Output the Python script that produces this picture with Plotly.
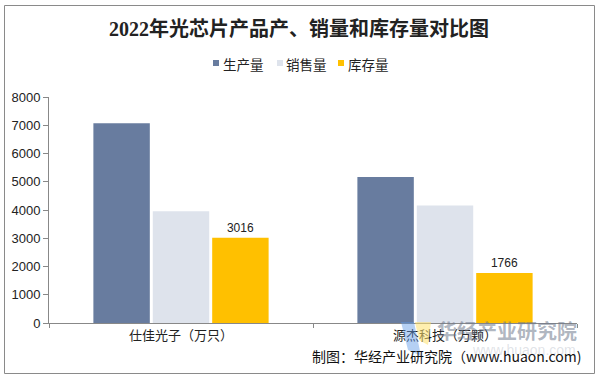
import plotly.graph_objects as go

categories = ["仕佳光子（万只）", "源杰科技（万颗）"]
series_names = ["生产量", "销售量", "库存量"]
production = [7070, 5170]
sales = [3960, 4160]
stock = [3016, 1766]
y_ticks = [0, 1000, 2000, 3000, 4000, 5000, 6000, 7000, 8000]

colors = ["#687C9F", "#DEE3EC", "#FFC000"]

W, H = 598, 377
L, R, T, B = 49, 21, 97, 54
pw, ph = W - L - R, H - T - B

def px(x):
    return (x - L) / pw

def py(y):
    return (H - B - y) / ph

fig = go.Figure()
for name, vals, c in zip(series_names, [production, sales, stock], colors):
    fig.add_trace(go.Bar(
        name=name, x=categories, y=vals, marker=dict(color=c, line=dict(width=0)),
        text=[str(v) for v in vals] if name == "库存量" else None,
        textposition="outside" if name == "库存量" else None,
        textfont=dict(size=12, color="#222", family="Arial, Liberation Sans"),
        cliponaxis=False, showlegend=False,
    ))

fig.update_layout(
    width=W, height=H,
    margin=dict(l=L, r=R, t=T, b=B, autoexpand=False),
    paper_bgcolor="white", plot_bgcolor="white",
    barmode="group", bargap=0.325, bargroupgap=0.05,
    title=dict(text="<b>2022年光芯片产品产、销量和库存量对比图</b>",
               x=0.5, xanchor="center", y=1 - 29 / H, yanchor="middle",
               font=dict(size=20, color="#222", family="Liberation Serif, Noto Sans CJK SC")),
    showlegend=False,
    font=dict(family="Arial, Liberation Sans, Noto Sans CJK SC"),
    yaxis=dict(range=[0, 8000], tickvals=y_ticks, showgrid=False, zeroline=False,
               showline=True, linecolor="#888", linewidth=1, automargin=False,
               ticks="outside", ticklen=5, tickcolor="#888",
               tickfont=dict(size=13, color="#222", family="Arial, Liberation Sans")),
    xaxis=dict(showline=True, linecolor="#888", linewidth=1, showgrid=False, automargin=False,
               ticks="outside", ticklen=4, tickcolor="#888", tickson="boundaries",
               tickfont=dict(size=13, color="#222", family="Noto Sans CJK SC")),
)

# outer frame
fig.add_shape(type="rect", xref="paper", yref="paper",
              x0=px(4.5), x1=px(594.5), y0=py(373.5), y1=py(5.5),
              line=dict(color="#8a8a8a", width=1), fillcolor="rgba(0,0,0,0)", layer="below")

# manual legend
legend_marker_x = [213, 277, 338]
legend_text_x = [221, 284, 346]
for name, c, mx, tx in zip(series_names, colors, legend_marker_x, legend_text_x):
    fig.add_shape(type="rect", xref="paper", yref="paper",
                  x0=px(mx), x1=px(mx + 6), y0=py(66), y1=py(60),
                  fillcolor=c, line=dict(width=0))
    fig.add_annotation(xref="paper", yref="paper", x=px(tx), y=py(64.5),
                       xanchor="left", yanchor="middle", text=name, showarrow=False,
                       font=dict(size=13.5, color="#222", family="Noto Sans CJK SC"))

# watermark logo
fig.add_shape(type="path", xref="paper", yref="paper",
              path=f"M {px(401)} {py(322)} L {px(414)} {py(322)} L {px(421)} {py(356)} L {px(408)} {py(350)} Z",
              fillcolor="rgba(90,150,230,0.45)", line=dict(width=0))
fig.add_shape(type="path", xref="paper", yref="paper",
              path=f"M {px(415)} {py(322)} L {px(431)} {py(322)} L {px(428)} {py(345)} L {px(419)} {py(340)} Z",
              fillcolor="rgba(255,225,110,0.55)", line=dict(width=0))

# watermark text
fig.add_annotation(xref="paper", yref="paper", x=px(579), y=py(330), xanchor="right", yanchor="middle",
                   text="<b>华经产业研究院</b>", showarrow=False,
                   font=dict(size=20, color="rgba(110,120,140,0.55)", family="Noto Sans CJK SC"))
fig.add_annotation(xref="paper", yref="paper", x=px(578), y=py(350), xanchor="right", yanchor="middle",
                   text="www.huaon.com", showarrow=False,
                   font=dict(size=14, color="rgba(150,160,175,0.3)", family="Arial, Liberation Sans"))
# source
fig.add_annotation(xref="paper", yref="paper", x=px(584), y=py(356), xanchor="right", yanchor="middle",
                   text="制图：华经产业研究院（www.huaon.com)", showarrow=False,
                   font=dict(size=14, color="#111", family="Noto Sans CJK SC"))

fig.write_html("out.html",
               config={"displayModeBar": False},
               post_script="document.body.style.margin='0px';document.body.style.overflow='hidden';")
